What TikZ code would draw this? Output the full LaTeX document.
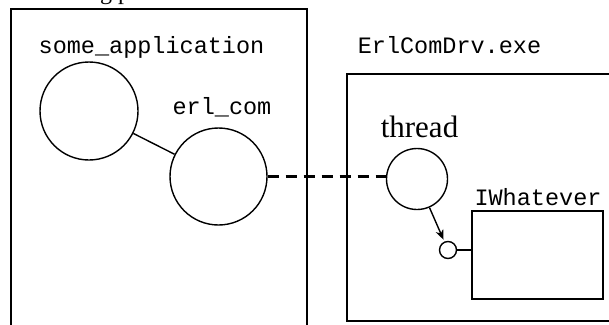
\documentclass[tikz,border=0pt]{standalone}
\usepackage{fontspec}
\setmainfont{Liberation Serif}
\newfontfamily\codefont{Liberation Mono}
\usetikzlibrary{arrows.meta}
\begin{document}
\begin{tikzpicture}[x=1pt,y=-1pt,
  frame/.style={line width=2.4pt},
  proc/.style={circle,draw,line width=1.4pt,inner sep=0pt},
  code/.style={font=\codefont\fontsize{23.5}{26}\selectfont,inner sep=0pt,anchor=base},
  serif/.style={font=\fontsize{31}{34}\selectfont,inner sep=0pt,anchor=base},
  link/.style={line width=1.4pt}]
  \useasboundingbox (0,0) rectangle (609,324);
  \clip (0,0) rectangle (609,324);

  % outer process frames (run past the picture edge)
  \draw[frame] (11,340) -- (11,9) -- (307,9) -- (307,340);
  \draw[frame] (620,74) -- (347,74) -- (347,321) -- (620,321);

  % titles
  \node[serif,anchor=base west,font=\fontsize{24}{26}\selectfont] (ptitle) at (48,0) {Erlang process};
  \node[code] (lapp) at (151.5,53) {some\_application};
  \node[code] (lcom) at (222,114) {erl\_com};
  \node[code] (ldrv) at (449.5,53) {ErlComDrv.exe};
  \node[serif] (lthr) at (419.5,137) {thread};
  \node[code] (liw) at (538,205) {IWhatever};

  % processes
  \node[proc,minimum size=98pt] (app) at (89,111) {};
  \node[proc,minimum size=97pt] (com) at (218.5,176.5) {};
  \node[proc,minimum size=61pt] (thr) at (417,179) {};
  \node[proc,minimum size=17pt] (lolli) at (448,250) {};
  \node[draw,line width=1.4pt,minimum width=131pt,minimum height=88pt,inner sep=0pt] (iw) at (537.5,255) {};

  % connectors
  \draw[link] (app) -- (com);
  \draw[line width=2.4pt,dash pattern=on 11pt off 7pt] (com.east) -- (thr.west |- com.east);
  \draw[link,-{Stealth[length=10pt,width=8pt]},shorten >=2pt] (thr) -- (lolli);
  \draw[link] (lolli.east) -- (iw.west |- lolli.east);
\end{tikzpicture}
\end{document}
